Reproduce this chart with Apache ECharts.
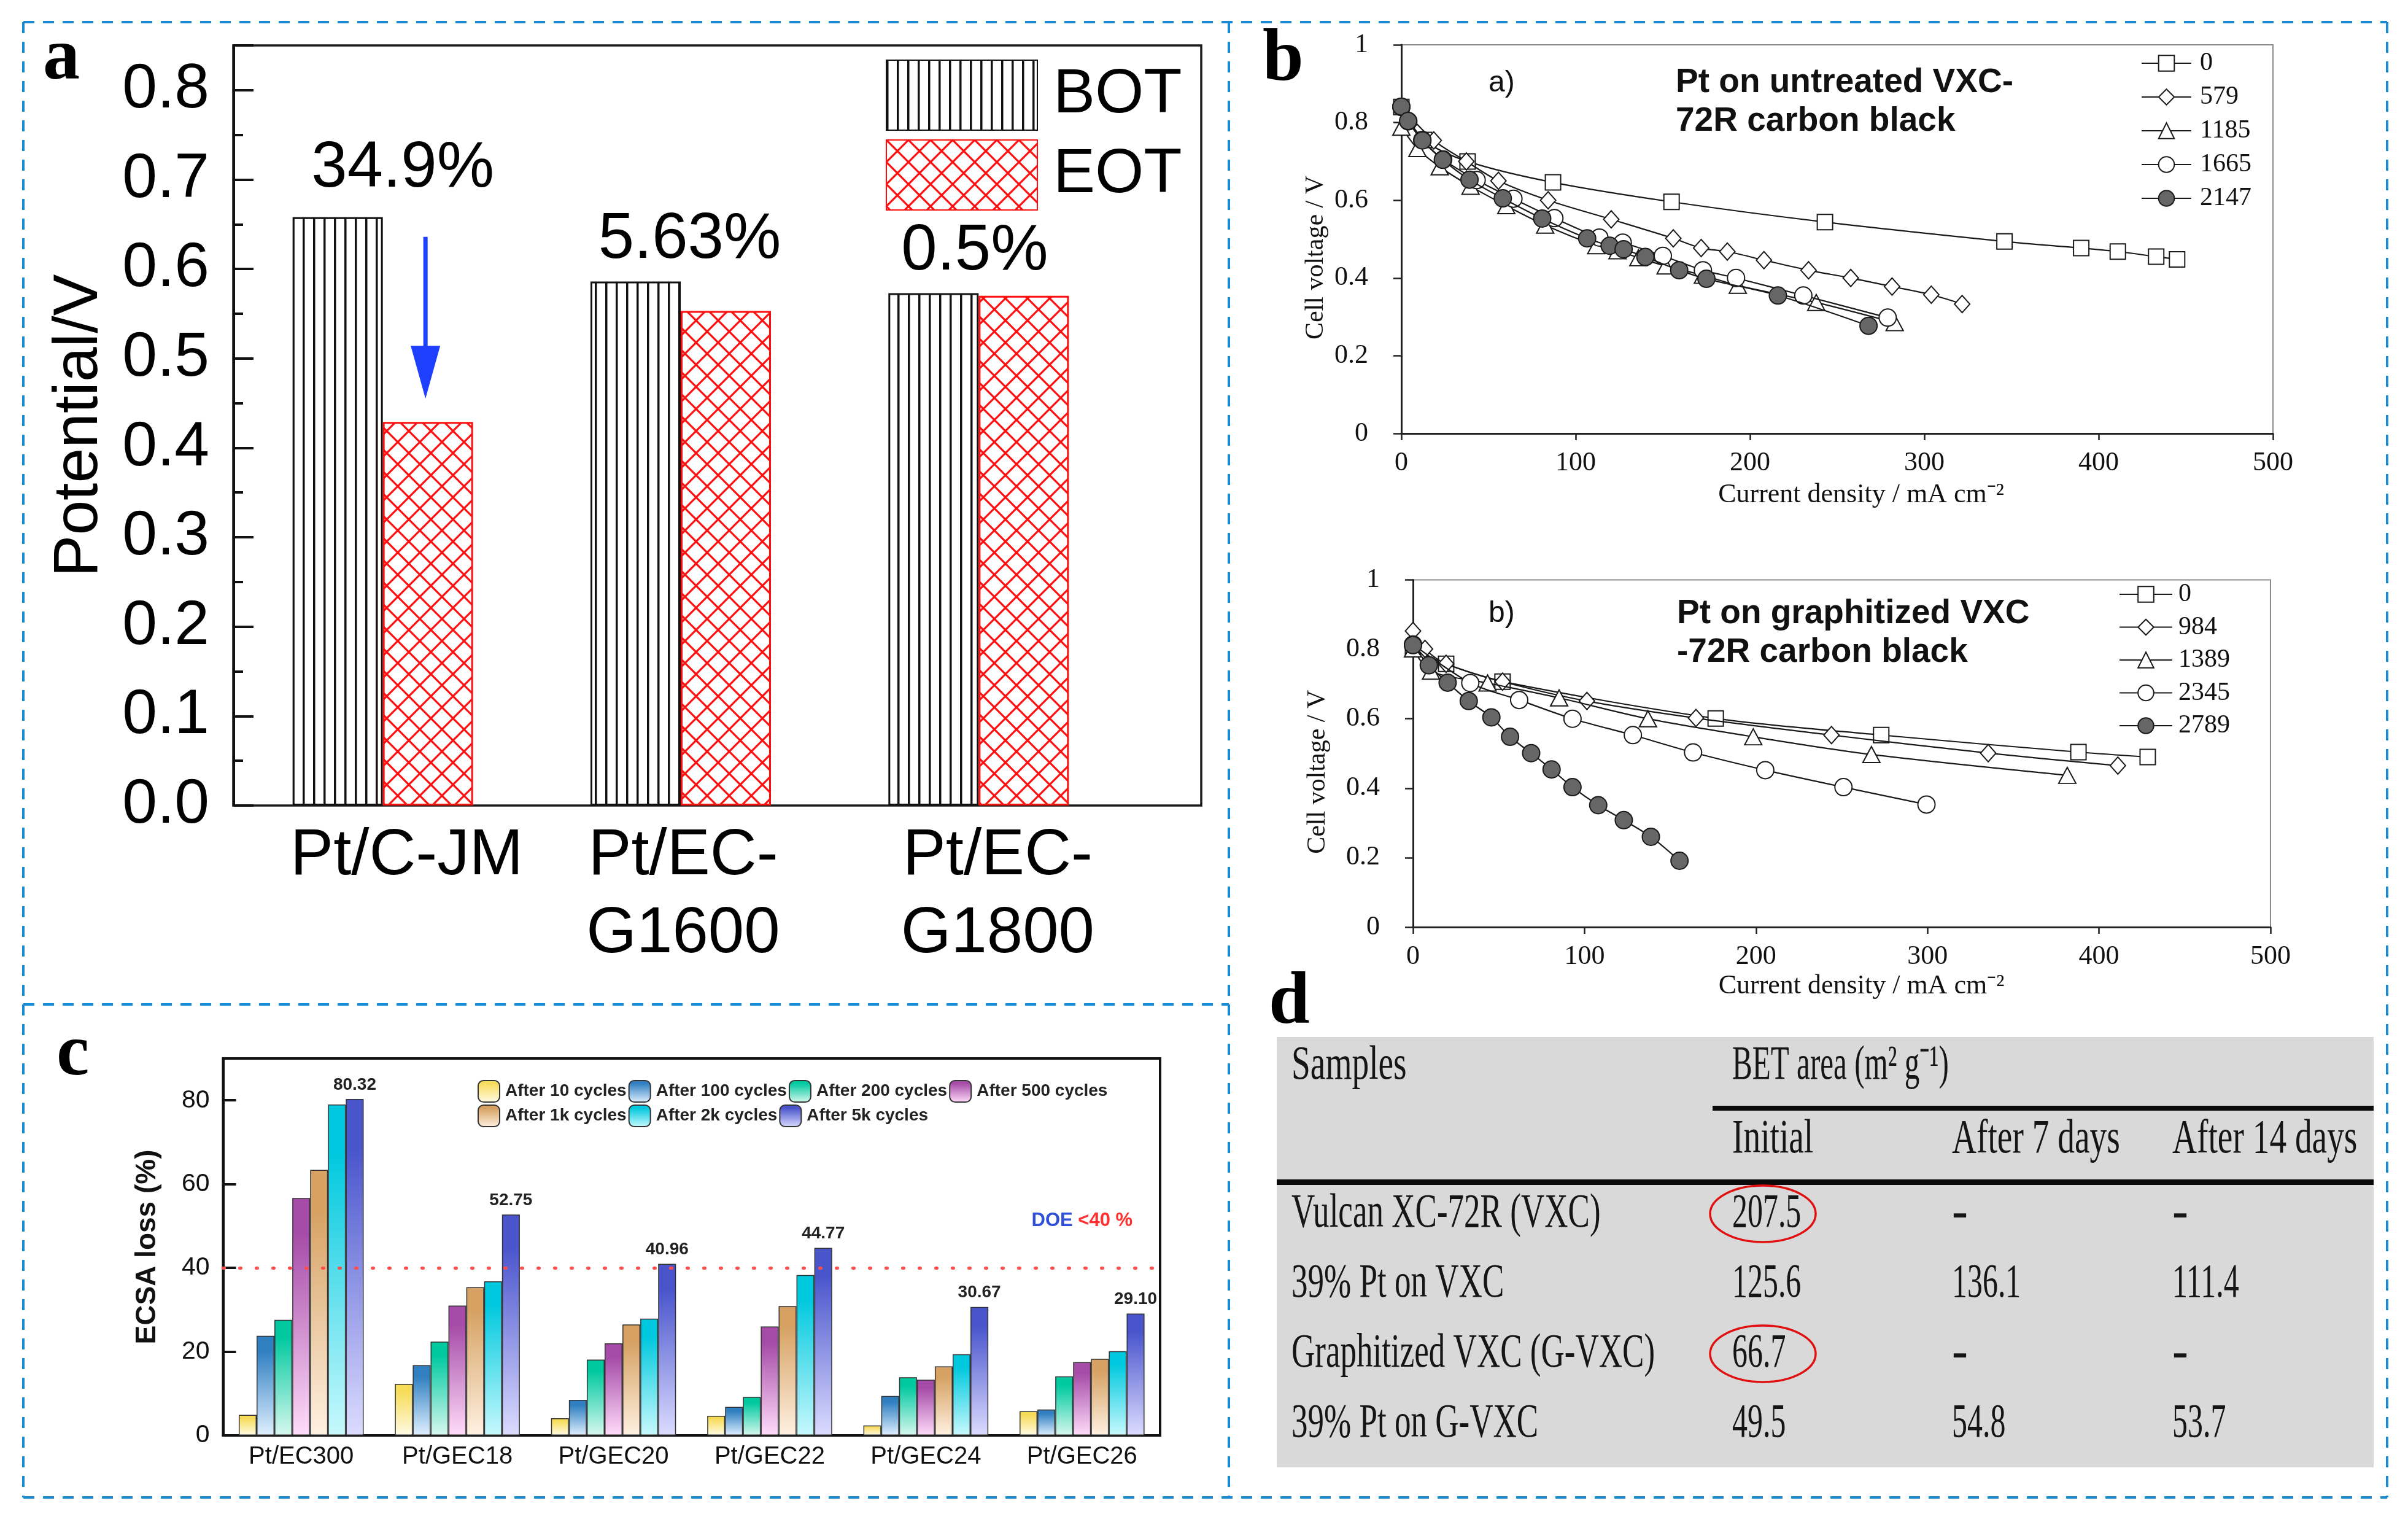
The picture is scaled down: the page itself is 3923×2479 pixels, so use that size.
<!DOCTYPE html>
<html><head><meta charset="utf-8">
<script src="https://cdn.jsdelivr.net/npm/echarts@6/dist/echarts.min.js"></script>
<style>html,body{margin:0;padding:0;background:#fff}#c{width:3923px;height:2479px}</style>
</head><body><div id="c"></div>
<script>
// ---------------- DATA ----------------
// Panel a
const aCategories = ['Pt/C-JM', 'Pt/EC-\nG1600', 'Pt/EC-\nG1800'];
const aBOT = [0.658, 0.586, 0.573];
const aEOT = [0.429, 0.553, 0.570];
const aLossLabels = ['34.9%', '5.63%', '0.5%'];
const aLossLabelY = [0.712, 0.632, 0.619];
const aArrowFrom = 0.636, aArrowTo = 0.455;

// Panel b (top): Pt on untreated VXC-72R
const bTopNames = ['0', '579', '1185', '1665', '2147'];
const bTop0 = [[0,0.84],[13,0.755],[38,0.70],[87,0.646],[155,0.596],[243,0.544],[346,0.494],[390,0.477],[411,0.468],[433,0.455],[445,0.448]];
const bTop579 = [[0,0.84],[18.6,0.754],[37.3,0.70],[55.7,0.65],[84.2,0.60],[120.4,0.551],[156,0.502],[172,0.477],[187,0.468],[208,0.446],[233.6,0.42],[257.8,0.40],[281.5,0.378],[304,0.357],[321.7,0.333]];
const bTop1185 = [[0,0.788],[9.2,0.733],[22,0.686],[39.7,0.636],[60.2,0.586],[82.5,0.536],[111.8,0.483],[124,0.47],[136,0.452],[151.6,0.431],[173,0.407],[193,0.381],[238,0.337],[283,0.285]];
const bTop1665 = [[0,0.84],[4,0.803],[12,0.755],[24,0.705],[43.2,0.652],[64.3,0.604],[87.8,0.554],[113.6,0.504],[127,0.491],[150,0.457],[173,0.42],[192,0.40],[230.6,0.355],[279,0.298]];
const bTop2147 = [[0,0.841],[3.9,0.804],[12.1,0.754],[23.8,0.704],[39.1,0.653],[58.2,0.605],[80.8,0.553],[106.6,0.502],[119.5,0.483],[127.5,0.474],[140,0.454],[159.4,0.42],[175,0.398],[216,0.355],[268,0.277]];

// Panel b (bottom): Pt on graphitized VXC-72R
const bBotNames = ['0', '984', '1389', '2345', '2789'];
const bBot0 = [[0,0.80],[19.3,0.758],[52.2,0.707],[176.5,0.601],[273,0.553],[388,0.504],[428.4,0.490]];
const bBot984 = [[0,0.853],[7,0.801],[19.3,0.758],[52.2,0.707],[101.4,0.651],[165,0.602],[244,0.553],[335.4,0.501],[411,0.465]];
const bBot1389 = [[0,0.801],[10.5,0.737],[43.5,0.703],[85.2,0.660],[137,0.600],[198.4,0.548],[267.3,0.497],[381.5,0.437]];
const bBot2345 = [[0,0.814],[33.4,0.703],[61.9,0.654],[93,0.600],[128.2,0.553],[163.3,0.503],[205.4,0.452],[251,0.403],[299.4,0.353]];
const bBot2789 = [[0,0.812],[9.2,0.754],[20.2,0.704],[32.5,0.651],[45.7,0.604],[56.6,0.548],[68.9,0.501],[80.8,0.454],[93,0.403],[108,0.351],[122.9,0.308],[138.7,0.260],[155.4,0.191]];

// Panel c
const cCategories = ['Pt/EC300', 'Pt/GEC18', 'Pt/GEC20', 'Pt/GEC22', 'Pt/GEC24', 'Pt/GEC26'];
const cNames = ['After 10 cycles', 'After 100 cycles', 'After 200 cycles', 'After 500 cycles', 'After 1k cycles', 'After 2k cycles', 'After 5k cycles'];
const c10 = [4.9, 12.3, 4.1, 4.7, 2.4, 5.8];
const c100 = [23.8, 16.8, 8.5, 6.8, 9.4, 6.2];
const c200 = [27.6, 22.4, 18.1, 9.2, 13.9, 14.1];
const c500 = [56.7, 31.0, 22.0, 26.0, 13.3, 17.5];
const c1k = [63.4, 35.4, 26.5, 30.9, 16.5, 18.3];
const c2k = [79.0, 36.8, 27.9, 38.3, 19.4, 20.1];
const c5k = [80.32, 52.75, 40.96, 44.77, 30.67, 29.10];
const cDoeLimit = 40;
const cDoeLabelPos = ['Pt/GEC26', 51.3];

// Panel d (table)
const dHeadSamples = 'Samples';
const dHeadBET = 'BET area (m\u00B2 g\u207B\u00B9)';
const dColumns = ['Initial', 'After 7 days', 'After 14 days'];
const dSamples = ['Vulcan XC-72R (VXC)', '39% Pt on VXC', 'Graphitized VXC (G-VXC)', '39% Pt on G-VXC'];
const dInitial = ['207.5', '125.6', '66.7', '49.5'];
const dAfter7 = ['-', '136.1', '-', '54.8'];
const dAfter14 = ['-', '111.4', '-', '53.7'];
const dCircled = [0, 2];

// ---------------- STYLE ----------------
const SANS = '"Liberation Sans", Arial, sans-serif';
const SERIF = '"Liberation Serif", "Times New Roman", serif';

function stripePattern() {
  const c = document.createElement('canvas'); c.width = 17; c.height = 8;
  const g = c.getContext('2d');
  g.fillStyle = '#fff'; g.fillRect(0, 0, 17, 8);
  g.fillStyle = '#111'; g.fillRect(0, 0, 3.5, 8);
  return c;
}
function crossPattern() {
  const s = 36;
  const c = document.createElement('canvas'); c.width = s; c.height = s;
  const g = c.getContext('2d');
  g.fillStyle = '#fff'; g.fillRect(0, 0, s, s);
  g.strokeStyle = '#ff1010'; g.lineWidth = 3.2;
  g.beginPath();
  for (const d of [-s, 0, s]) {
    g.moveTo(d, 0); g.lineTo(d + s, s);
    g.moveTo(d + s, 0); g.lineTo(d, s);
  }
  g.stroke();
  return c;
}

const chart = echarts.init(document.getElementById('c'), null, {renderer: 'canvas'});

const bAxisX = (gi, gap, pad) => ({
  gridIndex: gi, type: 'value', min: 0, max: 500, interval: 100,
  axisLine: {show: true, onZero: false, lineStyle: {color: '#222', width: 3}},
  axisTick: {show: true, length: 11, lineStyle: {color: '#222', width: 2.5}},
  axisLabel: {show: true, fontFamily: SERIF, fontSize: 44, color: '#111', margin: 26},
  splitLine: {show: false},
  name: 'Current density / mA cm\u207B\u00B2', nameLocation: 'middle', nameGap: gap,
  nameTextStyle: {fontFamily: SERIF, fontSize: 44, color: '#111', padding: [0, 0, 0, pad]}
});
const bAxisY = (gi, gap) => ({
  gridIndex: gi, type: 'value', min: 0, max: 1, interval: 0.2,
  axisLine: {show: true, onZero: false, lineStyle: {color: '#222', width: 3}},
  axisTick: {show: true, length: 13, lineStyle: {color: '#222', width: 2.5}},
  axisLabel: {show: true, fontFamily: SERIF, fontSize: 44, color: '#111', margin: 54},
  splitLine: {show: false},
  name: 'Cell voltage / V', nameLocation: 'middle', nameGap: gap,
  nameTextStyle: {fontFamily: SERIF, fontSize: 42, color: '#111', padding: [0, 60, 0, 0]}
});

const symDefs = [
  {symbol: 'rect', size: 25, fill: '#fff'},
  {symbol: 'diamond', size: [25, 28], fill: '#fff'},
  {symbol: 'triangle', size: [28, 26], fill: '#fff'},
  {symbol: 'circle', size: 28, fill: '#fff'},
  {symbol: 'circle', size: 28, fill: '#666'}
];
function lineSeries(name, data, k, axis) {
  const s = symDefs[k];
  return {
    name, type: 'line', xAxisIndex: axis, yAxisIndex: axis, data,
    smooth: 0.3, symbol: s.symbol, symbolSize: s.size, showAllSymbol: true,
    lineStyle: {color: '#1a1a1a', width: 2.2},
    itemStyle: {color: s.fill, borderColor: '#1a1a1a', borderWidth: 2},
    emphasis: {disabled: true}, z: 2 + k
  };
}

const cTopColors = ['#f7dc5a', '#2f7fc1', '#00c9a0', '#a64ca8', '#d6a162', '#00c8de', '#4a55cc'];
const cBottomColors = ['#fffbe6', '#e0f0ff', '#d8f8ee', '#ffdcfa', '#fff1e2', '#c8f9fd', '#dcdcff'];
const cData = [c10, c100, c200, c500, c1k, c2k, c5k];

const cSeries = cNames.map((n, i) => {
  const s = {
    name: n, type: 'bar', xAxisIndex: 4, yAxisIndex: 4, data: cData[i],
    barGap: '0%', barCategoryGap: '20%',
    itemStyle: {
      color: new echarts.graphic.LinearGradient(0, 0, 0, 1, [
        {offset: 0, color: cTopColors[i]}, {offset: 0.15, color: cTopColors[i]}, {offset: 1, color: cBottomColors[i]}]),
      borderColor: '#333', borderWidth: 1.5
    },
    emphasis: {disabled: true}
  };
  if (i === cNames.length - 1) {
    s.label = {show: true, position: 'top', distance: 9, fontFamily: SANS, fontSize: 28, fontWeight: 'bold', color: '#222',
      formatter: p => p.value.toFixed(2)};
  }
  if (i === 0) {
    s.markLine = {
      silent: true, symbol: ['none', 'none'], label: {show: false},
      lineStyle: {color: '#ff4d4d', width: 5, type: [2, 25], cap: 'round'},
      data: [{yAxis: cDoeLimit}], z: 10
    };
  }
  if (i === 3) {
    // middle bar of each group -> marker sits on category centre
    s.markPoint = {
      symbol: 'rect', symbolSize: 1, itemStyle: {color: 'rgba(0,0,0,0)'},
      label: {show: true, position: 'inside', formatter: '{b|DOE }{r|<40 %}',
        rich: {b: {color: '#3050d8', fontFamily: SANS, fontSize: 31, fontWeight: 'bold'},
               r: {color: '#ff3030', fontFamily: SANS, fontSize: 31, fontWeight: 'bold'}}},
      data: [{coord: cDoeLabelPos}]
    };
  }
  return s;
});

// label x-offsets relative to the BOT bar centre
const labelDx = [106, 88, 67];
// per-category label shifts (rich padding) for panel a axis labels
const aLabelRich = {};
[78, 8, 62].forEach((p, i) => {
  aLabelRich['s' + i] = {fontFamily: SANS, fontSize: 105, color: '#000', lineHeight: 127, padding: [0, 0, 0, p]};
});

const option = {
  animation: false,
  backgroundColor: '#ffffff',
  textStyle: {fontFamily: SANS},
  grid: [
    {left: 380, top: 74, width: 1577, height: 1238, show: true, borderColor: '#1a1a1a', borderWidth: 3.5, backgroundColor: 'rgba(0,0,0,0)'},
    {left: 381, top: 74, width: 1456, height: 1238},
    {left: 2283, top: 73, width: 1420, height: 633, show: true, borderColor: '#8a8a8a', borderWidth: 2, backgroundColor: 'rgba(0,0,0,0)'},
    {left: 2302, top: 944.5, width: 1397, height: 565.5, show: true, borderColor: '#8a8a8a', borderWidth: 2, backgroundColor: 'rgba(0,0,0,0)'},
    {left: 363.5, top: 1724, width: 1526.5, height: 614, show: true, borderColor: '#111', borderWidth: 4, backgroundColor: 'rgba(0,0,0,0)'}
  ],
  xAxis: [
    {gridIndex: 0, type: 'value', show: false, min: 0, max: 1},
    {gridIndex: 1, type: 'category', data: aCategories,
      axisLine: {show: false}, axisTick: {show: false}, splitLine: {show: false},
      axisLabel: {show: true, fontFamily: SANS, fontSize: 105, color: '#000', lineHeight: 127, margin: 20, interval: 0,
        formatter: (v, i) => v.split('\n').map(l => '{s' + i + '|' + l + '}').join('\n'),
        rich: aLabelRich}},
    bAxisX(2, 78, 78),
    bAxisX(3, 74, 64),
    {gridIndex: 4, type: 'category', data: cCategories,
      axisLine: {show: true, lineStyle: {color: '#111', width: 4}}, axisTick: {show: false}, splitLine: {show: false},
      axisLabel: {show: true, fontFamily: SANS, fontSize: 40, color: '#111', margin: 15, interval: 0}}
  ],
  yAxis: [
    {gridIndex: 0, type: 'value', show: false, min: 0, max: 1},
    {gridIndex: 1, type: 'value', min: 0, max: 0.85, interval: 0.1,
      axisLine: {show: true, lineStyle: {color: '#111', width: 4}},
      axisTick: {show: true, inside: true, length: 32, lineStyle: {color: '#111', width: 4}},
      minorTick: {show: true, splitNumber: 2, length: 15, lineStyle: {color: '#111', width: 4}},
      splitLine: {show: false}, minorSplitLine: {show: false},
      axisLabel: {show: true, fontFamily: SANS, fontSize: 102, color: '#000', margin: 40,
        formatter: v => (v > 0.81 ? '' : v.toFixed(1))},
      name: 'Potential/V', nameLocation: 'middle', nameGap: 200,
      nameTextStyle: {fontFamily: SANS, fontSize: 102, color: '#000'}},
    bAxisY(2, 118),
    bAxisY(3, 134),
    {gridIndex: 4, type: 'value', min: 0, max: 90, interval: 20,
      axisLine: {show: true, lineStyle: {color: '#111', width: 4}},
      axisTick: {show: true, inside: true, length: 21, lineStyle: {color: '#111', width: 4}},
      splitLine: {show: false},
      axisLabel: {show: true, fontFamily: SANS, fontSize: 41, color: '#111', margin: 22,
        formatter: v => (v > 85 ? '' : String(v))},
      name: 'ECSA loss (%)', nameLocation: 'middle', nameGap: 100,
      nameTextStyle: {fontFamily: SANS, fontSize: 46, fontWeight: 'bold', color: '#111'}}
  ],
  legend: [
    {data: ['BOT', 'EOT'], orient: 'vertical', left: 1438, top: 92, itemWidth: 246, itemHeight: 114, itemGap: 14,
      icon: 'rect', selectedMode: false,
      textStyle: {fontFamily: SANS, fontSize: 102, color: '#000', lineHeight: 114, padding: [0, 0, 0, 21]}},
    {data: bTopNames, orient: 'vertical', left: 3483, top: 77, itemWidth: 81, itemHeight: 32, itemGap: 13, selectedMode: false,
      textStyle: {fontFamily: SERIF, fontSize: 42, color: '#111', lineHeight: 42, padding: [0, 0, 0, 9]}},
    {data: bBotNames, orient: 'vertical', left: 3447, top: 942, itemWidth: 86, itemHeight: 32, itemGap: 11.5, selectedMode: false,
      textStyle: {fontFamily: SERIF, fontSize: 42, color: '#111', lineHeight: 42, padding: [0, 0, 0, 5]}},
    {data: cNames, orient: 'horizontal', left: 773, top: 1754, width: 1045, itemWidth: 35, itemHeight: 35, itemGap: 3,
      icon: 'roundRect', selectedMode: false,
      textStyle: {fontFamily: SANS, fontSize: 28, fontWeight: 'bold', color: '#222', lineHeight: 35, padding: [0, 0, 0, 4]}}
  ],
  series: [
    {name: 'BOT', type: 'bar', xAxisIndex: 1, yAxisIndex: 1, data: aBOT, barWidth: 147, barGap: '0%',
      itemStyle: {color: {image: stripePattern(), repeat: 'repeat'}, borderColor: '#111', borderWidth: 3},
      emphasis: {disabled: true},
      markPoint: {
        symbol: 'rect', symbolSize: 1, itemStyle: {color: 'rgba(0,0,0,0)'},
        label: {show: true, position: 'inside', fontFamily: SANS, fontSize: 105, color: '#000', formatter: '{b}'},
        data: aLossLabels.map((t, i) => ({name: t, coord: [i, aLossLabelY[i]], label: {offset: [labelDx[i], 0]}}))
      }},
    {name: 'EOT', type: 'bar', xAxisIndex: 1, yAxisIndex: 1, data: aEOT, barWidth: 147, barGap: '0%',
      itemStyle: {color: {image: crossPattern(), repeat: 'repeat'}, borderColor: '#ff1010', borderWidth: 3},
      emphasis: {disabled: true}},
    lineSeries(bTopNames[0], bTop0, 0, 2),
    lineSeries(bTopNames[1], bTop579, 1, 2),
    lineSeries(bTopNames[2], bTop1185, 2, 2),
    lineSeries(bTopNames[3], bTop1665, 3, 2),
    lineSeries(bTopNames[4], bTop2147, 4, 2),
    lineSeries(bBotNames[0], bBot0, 0, 3),
    lineSeries(bBotNames[1], bBot984, 1, 3),
    lineSeries(bBotNames[2], bBot1389, 2, 3),
    lineSeries(bBotNames[3], bBot2345, 3, 3),
    lineSeries(bBotNames[4], bBot2789, 4, 3),
    ...cSeries
  ]
};
chart.setOption(option);

// ---------------- GRAPHIC (frames, letters, annotations, table) ----------------
const G = [];
const dash = {stroke: '#1a8ad4', lineWidth: 4, lineDash: [18, 14]};
const L = 38, T = 36, R = 3889, B = 2439, VX = 2002, HY = 1636;
[[L, T, R, T], [L, B, R, B], [L, T, L, B], [R, T, R, B], [VX, T, VX, B], [L, HY, VX, HY]].forEach(s =>
  G.push({type: 'line', silent: true, shape: {x1: s[0], y1: s[1], x2: s[2], y2: s[3]}, style: dash}));

function txt(text, x, base, font, size, opts) {
  opts = opts || {};
  const k = opts.k !== undefined ? opts.k : 0.34;
  return {type: 'text', silent: true, x, y: base - k * size, scaleX: opts.scaleX || 1,
    style: {text, font: (opts.weight || 'normal') + ' ' + size + 'px ' + font, fill: opts.fill || '#000',
      align: opts.align || 'left', verticalAlign: 'middle'}, z: 100};
}
// panel letters
G.push(txt('a', 70, 138, SERIF, 120, {weight: 'bold'}));
G.push(txt('b', 2057, 140, SERIF, 120, {weight: 'bold'}));
G.push(txt('c', 92, 1760, SERIF, 120, {weight: 'bold'}));
G.push(txt('d', 2067, 1676, SERIF, 120, {weight: 'bold'}));
// panel b annotations
G.push(txt('a)', 2425, 152, SANS, 48, {fill: '#111'}));
G.push(txt('Pt on untreated VXC-', 2730, 154, SANS, 55, {weight: 'bold', fill: '#111'}));
G.push(txt('72R carbon black', 2730, 217, SANS, 55, {weight: 'bold', fill: '#111'}));
G.push(txt('b)', 2425, 1016, SANS, 48, {fill: '#111'}));
G.push(txt('Pt on graphitized VXC', 2732, 1019, SANS, 55, {weight: 'bold', fill: '#111'}));
G.push(txt('-72R carbon black', 2732, 1082, SANS, 55, {weight: 'bold', fill: '#111'}));

// blue arrow in panel a (on EOT bar of first category)
const pTop = chart.convertToPixel({xAxisIndex: 1, yAxisIndex: 1}, [0, aArrowFrom]);
const pTip = chart.convertToPixel({xAxisIndex: 1, yAxisIndex: 1}, [0, aArrowTo]);
const ax = pTop[0] + 147 / 2 - 4;
G.push({type: 'line', silent: true, shape: {x1: ax, y1: pTop[1], x2: ax, y2: pTip[1] - 80}, style: {stroke: '#1f3fff', lineWidth: 7}, z: 100});
G.push({type: 'polygon', silent: true, shape: {points: [[ax - 24, pTip[1] - 86], [ax + 24, pTip[1] - 86], [ax, pTip[1]]]}, style: {fill: '#1f3fff'}, z: 100});

// table (panel d)
const tX = 2080, tY = 1689, tW = 1787, tH = 701;
const sampleX = 2104, colX = [2822, 3180, 3539];
const headBase = 1763, subBase = 1883, rowBase0 = 2004, rowStep = 114;
const TF = 78;
G.push({type: 'rect', silent: true, shape: {x: tX, y: tY, width: tW, height: tH}, style: {fill: '#d9d9d9'}, z: 90});
G.push({type: 'rect', silent: true, shape: {x: 2790, y: 1801, width: tX + tW - 2790, height: 8}, style: {fill: '#0a0a0a'}, z: 91});
G.push({type: 'rect', silent: true, shape: {x: tX, y: 1921, width: tW, height: 9}, style: {fill: '#0a0a0a'}, z: 91});
G.push(txt(dHeadSamples, sampleX, headBase, SERIF, TF, {scaleX: 0.71, fill: '#151515', k: 0.3375}));
G.push(txt(dHeadBET, colX[0], headBase, SERIF, TF, {scaleX: 0.63, fill: '#151515', k: 0.3375}));
dColumns.forEach((c, j) => G.push(txt(c, colX[j], subBase, SERIF, TF, {scaleX: 0.71, fill: '#151515', k: 0.3375})));
dSamples.forEach((s, i) => {
  const base = rowBase0 + i * rowStep;
  G.push(txt(s, sampleX, base, SERIF, TF, {scaleX: 0.68, fill: '#151515', k: 0.3375}));
  [dInitial[i], dAfter7[i], dAfter14[i]].forEach((v, j) => {
    if (v === '-') G.push(txt(v, colX[j], base, SERIF, TF, {scaleX: 1, weight: 'bold', fill: '#151515', k: 0.3375}));
    else G.push(txt(v, colX[j], base, SERIF, TF, {scaleX: 0.64, fill: '#151515', k: 0.3375}));
  });
});
dCircled.forEach(i => {
  const base = rowBase0 + i * rowStep;
  G.push({type: 'ellipse', silent: true, shape: {cx: colX[0] + 50, cy: base - 27, rx: 86, ry: 46},
    style: {fill: 'none', stroke: '#e01010', lineWidth: 3.5}, z: 101});
});

chart.setOption({graphic: G});
</script>
</body></html>
